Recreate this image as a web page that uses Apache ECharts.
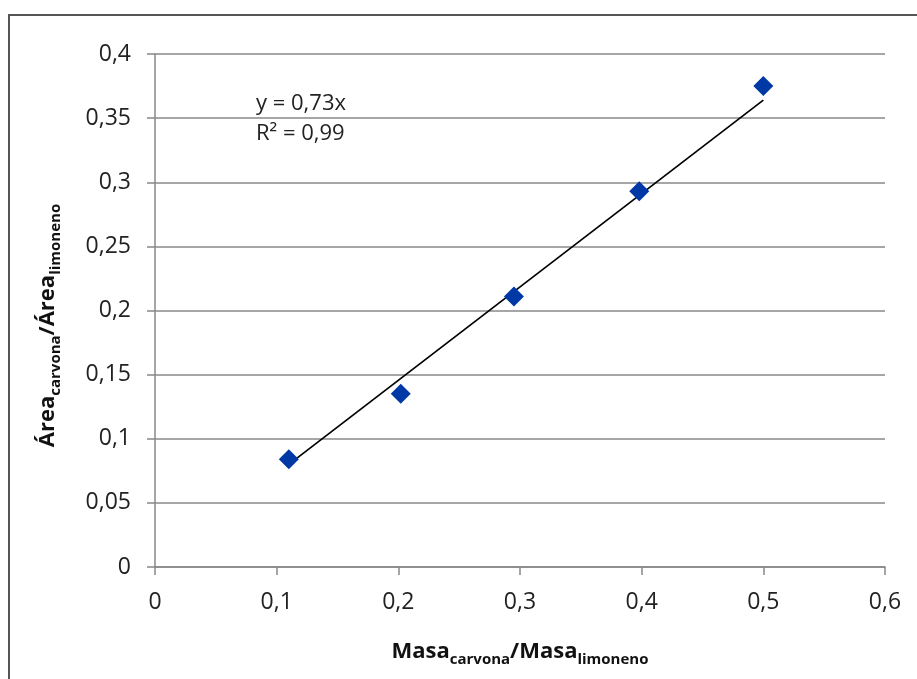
<!DOCTYPE html>
<html>
<head>
<meta charset="utf-8">
<style>
  html, body { margin: 0; padding: 0; background: #fff; }
  #chart { width: 917px; height: 679px; }
</style>
<script src="https://cdn.jsdelivr.net/npm/echarts@6/dist/echarts.min.js"></script>
</head>
<body>
<div id="chart"></div>
<script>
// measured points: masa carvona/limoneno vs area carvona/limoneno
var masaRatio = [0.11, 0.202, 0.295, 0.398, 0.5];
var areaRatio = [0.084, 0.135, 0.211, 0.293, 0.375];
// linear trendline (y = 0,73x) drawn across the data range
var trendX = [0.11, 0.5];
var trendY = [0.080, 0.364];
var equationLines = ["y = 0,73x", "R² = 0,99"];

var FONT = "Open Sans";
var fmt = function (v) { return String(+v.toFixed(2)).replace(".", ","); };

var points = masaRatio.map(function (x, i) { return [x, areaRatio[i]]; });
var trend = trendX.map(function (x, i) { return [x, trendY[i]]; });

var titleRich = {
  b: { fontFamily: FONT, fontWeight: "bold", fontSize: 22, color: "#111", lineHeight: 30 },
  s: { fontFamily: FONT, fontWeight: "bold", fontSize: 15, color: "#111", lineHeight: 30, verticalAlign: "bottom" }
};

var chart = echarts.init(document.getElementById("chart"));
chart.setOption({
  animation: false,
  backgroundColor: "#fff",
  grid: { left: 155, right: 32, top: 54, bottom: 112 },
  xAxis: {
    type: "value",
    min: 0, max: 0.6, interval: 0.1,
    name: "{b|Masa}{s|carvona}{b|/Masa}{s|limoneno}",
    nameLocation: "middle",
    nameGap: 70,
    nameTextStyle: { rich: titleRich },
    axisLine: { show: true, lineStyle: { color: "#888", width: 1.5 } },
    axisTick: { show: true, length: 8, lineStyle: { color: "#888", width: 1.5 } },
    splitLine: { show: false },
    axisLabel: { formatter: fmt, fontFamily: FONT, fontSize: 23, color: "#222", margin: 24 }
  },
  yAxis: {
    type: "value",
    min: 0, max: 0.4, interval: 0.05,
    name: "{b|Área}{s|carvona}{b|/Área}{s|limoneno}",
    nameLocation: "middle",
    nameRotate: 90,
    nameGap: 92,
    nameTextStyle: { rich: titleRich, padding: [0, 30, 0, 0] },
    axisLine: { show: true, lineStyle: { color: "#888", width: 1.5 } },
    axisTick: { show: true, length: 8, lineStyle: { color: "#888", width: 1.5 } },
    splitLine: { show: true, lineStyle: { color: "#888", width: 1.5 } },
    axisLabel: { formatter: fmt, fontFamily: FONT, fontSize: 23, color: "#222", margin: 24 }
  },
  graphic: [
    {
      type: "rect",
      shape: { x: 9, y: 15, width: 1000, height: 1000 },
      style: { fill: "none", stroke: "#555", lineWidth: 2 },
      silent: true
    },
    {
      type: "text", left: 256, top: 93,
      style: { text: equationLines[0], font: "22px 'Open Sans'", fill: "#222" }
    },
    {
      type: "text", left: 256, top: 123,
      style: { text: equationLines[1], font: "22px 'Open Sans'", fill: "#222" }
    }
  ],
  series: [
    {
      type: "line",
      data: trend,
      showSymbol: false,
      lineStyle: { color: "#000", width: 1.7 },
      z: 3
    },
    {
      type: "scatter",
      data: points,
      symbol: "diamond",
      symbolSize: [20, 20],
      itemStyle: { color: "#0039a6", opacity: 1 },
      z: 4
    }
  ]
});
</script>
</body>
</html>
